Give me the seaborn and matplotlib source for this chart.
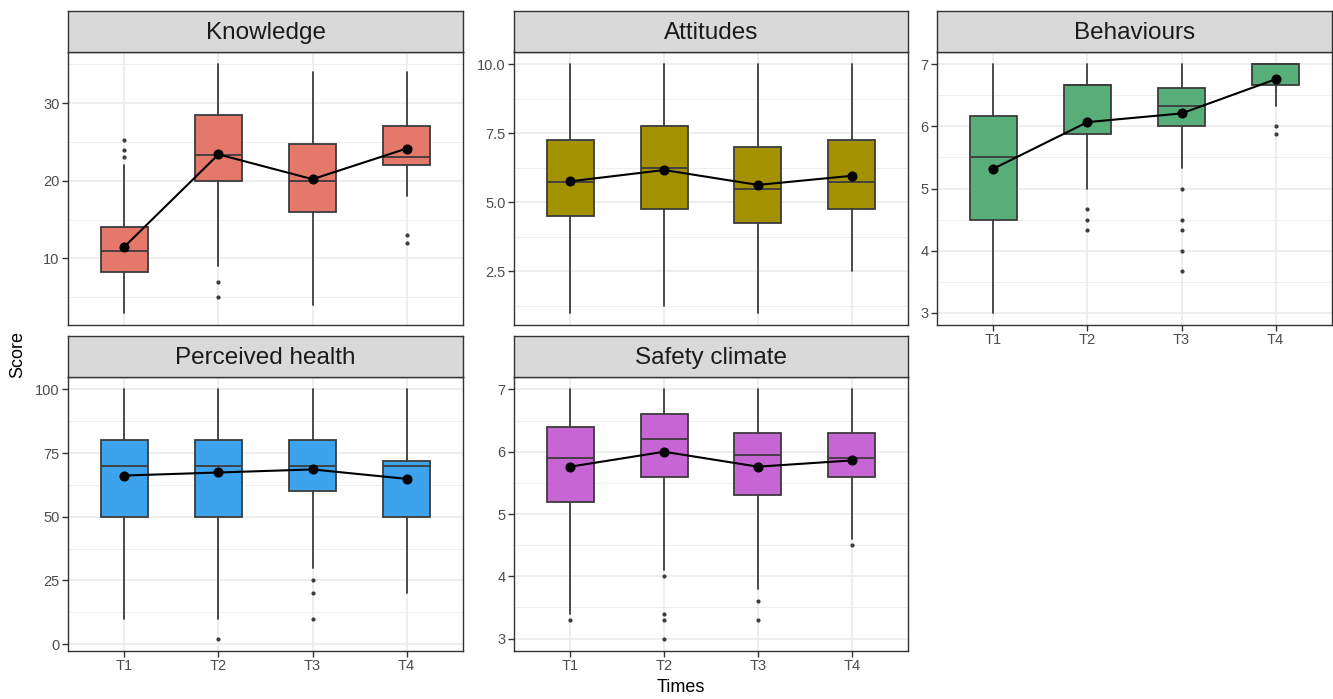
import numpy as np
import pandas as pd
import matplotlib
matplotlib.use("Agg")
import matplotlib.pyplot as plt
import seaborn as sns

times = ["T1", "T2", "T3", "T4"]
panels = ["Knowledge", "Attitudes", "Behaviours", "Perceived health", "Safety climate"]
colors = ["#E4786A", "#A39100", "#57AE78", "#3CA3EC", "#C865D4"]

# box statistics per panel: lists over T1..T4
knowledge_q1 = [8.25, 20, 16, 22]
knowledge_med = [11, 23.3, 20, 23]
knowledge_q3 = [14, 28.5, 24.75, 27]
knowledge_wlo = [3, 9, 4, 18]
knowledge_whi = [22, 35, 34, 34]
knowledge_out = [[25.3, 24, 23], [7, 5], [], [13, 12]]
knowledge_mean = [11.5, 23.4, 20.2, 24.15]

attitudes_q1 = [4.5, 4.75, 4.25, 4.75]
attitudes_med = [5.75, 6.25, 5.5, 5.75]
attitudes_q3 = [7.25, 7.75, 7.0, 7.25]
attitudes_wlo = [1.0, 1.25, 1.0, 2.5]
attitudes_whi = [10, 10, 10, 10]
attitudes_out = [[], [], [], []]
attitudes_mean = [5.76, 6.17, 5.63, 5.96]

behaviours_q1 = [4.5, 5.875, 6.0, 6.667]
behaviours_med = [5.5, 6.667, 6.333, 7.0]
behaviours_q3 = [6.167, 6.667, 6.625, 7.0]
behaviours_wlo = [3.0, 5.0, 5.333, 6.333]
behaviours_whi = [7, 7, 7, 7]
behaviours_out = [[], [4.667, 4.5, 4.333], [5.0, 4.5, 4.333, 4.0, 3.667], [6.0, 5.875]]
behaviours_mean = [5.32, 6.07, 6.21, 6.76]

health_q1 = [50, 50, 60, 50]
health_med = [70, 70, 70, 70]
health_q3 = [80, 80, 80, 72]
health_wlo = [10, 10, 30, 20]
health_whi = [100, 100, 100, 100]
health_out = [[], [2], [25, 20, 10], []]
health_mean = [66.2, 67.4, 68.6, 64.9]

safety_q1 = [5.2, 5.6, 5.3, 5.6]
safety_med = [5.9, 6.2, 5.95, 5.9]
safety_q3 = [6.4, 6.6, 6.3, 6.3]
safety_wlo = [3.4, 4.1, 3.8, 4.6]
safety_whi = [7, 7, 7, 7]
safety_out = [[3.3], [4.0, 3.4, 3.3, 3.0], [3.6, 3.3], [4.5]]
safety_mean = [5.76, 6.0, 5.76, 5.86]

stats_all = [
    (knowledge_q1, knowledge_med, knowledge_q3, knowledge_wlo, knowledge_whi, knowledge_out, knowledge_mean),
    (attitudes_q1, attitudes_med, attitudes_q3, attitudes_wlo, attitudes_whi, attitudes_out, attitudes_mean),
    (behaviours_q1, behaviours_med, behaviours_q3, behaviours_wlo, behaviours_whi, behaviours_out, behaviours_mean),
    (health_q1, health_med, health_q3, health_wlo, health_whi, health_out, health_mean),
    (safety_q1, safety_med, safety_q3, safety_wlo, safety_whi, safety_out, safety_mean),
]

yticks = [[10, 20, 30], [2.5, 5.0, 7.5, 10.0], [3, 4, 5, 6, 7], [0, 25, 50, 75, 100], [3, 4, 5, 6, 7]]
yticklabels = [["10", "20", "30"], ["2.5", "5.0", "7.5", "10.0"], ["3", "4", "5", "6", "7"],
               ["0", "25", "50", "75", "100"], ["3", "4", "5", "6", "7"]]
yminor = [[5, 15, 25, 35], [1.25, 3.75, 6.25, 8.75], [3.5, 4.5, 5.5, 6.5],
          [12.5, 37.5, 62.5, 87.5], [3.5, 4.5, 5.5, 6.5]]
ylims = [(1.4, 36.6), (0.55, 10.45), (2.8, 7.2), (-2.7, 104.9), (2.8, 7.2)]

sns.set_theme(style="white")
plt.rcParams["font.family"] = ["Liberation Sans", "DejaVu Sans"]

W, H = 1333, 699
fig = plt.figure(figsize=(W / 100, H / 100), dpi=100)

# panel pixel geometry (left, right, top, bottom)
cols_x = [(68, 463), (514, 908), (937, 1332)]
rows_y = [(52, 325), (377, 651)]
strip_h = 41
grid_pos = [(0, 0), (0, 1), (0, 2), (1, 0), (1, 1)]

def px_axes(l, r, t, b):
    return fig.add_axes([l / W, 1 - b / H, (r - l) / W, (b - t) / H])

dark = "#333333"
boxc = "#3C3C3C"
for i, name in enumerate(panels):
    rr, cc = grid_pos[i]
    l, r = cols_x[cc]
    t, b = rows_y[rr]
    ax = px_axes(l, r, t, b)
    q1, med, q3, wlo, whi, outs, means = stats_all[i]
    bstats = []
    for j in range(4):
        bstats.append(dict(q1=q1[j], med=med[j], q3=q3[j], whislo=wlo[j], whishi=whi[j],
                           fliers=outs[j], label=times[j]))
    pos = np.arange(4)
    # grid
    for v in yminor[i]:
        ax.axhline(v, color="#EBEBEB", lw=0.6, zorder=0)
    for v in yticks[i]:
        ax.axhline(v, color="#EBEBEB", lw=1.2, zorder=0)
    for p in pos:
        ax.axvline(p, color="#EBEBEB", lw=1.2, zorder=0)
    ax.bxp(bstats, positions=pos, widths=0.5, patch_artist=True, showcaps=False,
           boxprops=dict(facecolor=colors[i], edgecolor=boxc, linewidth=1.3),
           medianprops=dict(color=boxc, linewidth=1.3),
           whiskerprops=dict(color=boxc, linewidth=1.3),
           flierprops=dict(marker="o", markersize=2.0, markerfacecolor=boxc, markeredgecolor=boxc),
           manage_ticks=False, zorder=2)
    dfm = pd.DataFrame({"x": pos, "mean": means})
    sns.lineplot(data=dfm, x="x", y="mean", color="black", lw=1.5, marker="o",
                 markersize=6.5, markeredgecolor="black", ax=ax, zorder=4)
    ax.set_xlim(-0.6, 3.6)
    ax.set_ylim(*ylims[i])
    ax.set_yticks(yticks[i])
    ax.set_yticklabels(yticklabels[i])
    ax.set_xticks(pos)
    if i >= 2:
        ax.set_xticklabels(times)
    else:
        ax.set_xticklabels([])
        ax.tick_params(axis="x", length=0)
    ax.set_xlabel("")
    ax.set_ylabel("")
    ax.tick_params(axis="both", which="major", length=4, width=1, color=dark,
                   labelsize=10.5, labelcolor="#4D4D4D", pad=2, direction="out",
                   left=True, bottom=(i >= 2))
    for s in ax.spines.values():
        s.set_color(dark)
        s.set_linewidth(1.0)
        s.set_visible(True)
    # strip
    sax = px_axes(l, r, t - strip_h, t)
    sax.set_facecolor("#D9D9D9")
    sax.set_xticks([])
    sax.set_yticks([])
    for s in sax.spines.values():
        s.set_color(dark)
        s.set_linewidth(1.0)
        s.set_visible(True)
    sax.text(0.5, 0.47, name, ha="center", va="center", fontsize=17.5, color="#1A1A1A",
             transform=sax.transAxes)

fig.text(681 / W, 1 - 688 / H, "Times", ha="center", va="center", fontsize=13, color="black")
fig.text(18 / W, 1 - 354 / H, "Score", ha="center", va="center", rotation=90, fontsize=13, color="black")

fig.savefig("out.png", dpi=100)
